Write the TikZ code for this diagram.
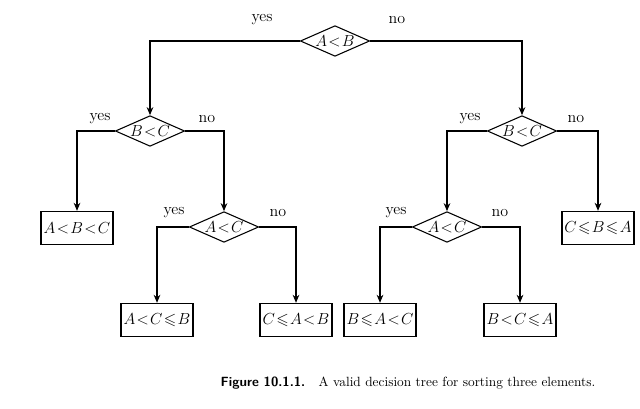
\documentclass[tikz,border=0pt]{standalone}
\usepackage{amsmath,amssymb}
\usetikzlibrary{shapes.geometric,arrows.meta}
\tikzset{
  test/.style={draw,thick,diamond,aspect=2.2,inner sep=0pt,minimum width=52pt,minimum height=23pt,font=\large},
  leaf/.style={draw,thick,rectangle,minimum width=54pt,minimum height=25pt,inner sep=1pt,font=\large},
  edge/.style={thick,-{Stealth[length=6pt,width=5pt]}},
  lab/.style={font=\large}
}
\begin{document}
\thickmuskip=1.5mu\relax
\begin{tikzpicture}[x=0.75pt,y=-0.75pt]
\useasboundingbox (0,0) rectangle (640,409);
% decisions
\node[test] (ab) at (335,41) {$A<B$};
\node[test] (bc1) at (150,131) {$B<C$};
\node[test] (bc2) at (522,131) {$B<C$};
\node[test] (ac1) at (224,227) {$A<C$};
\node[test] (ac2) at (447,227) {$A<C$};
% outcomes
\node[leaf] (abc) at (77,228) {$A<B<C$};
\node[leaf] (acb) at (157,320) {$A<C\leqslant B$};
\node[leaf] (cab) at (296,320) {$C\leqslant A<B$};
\node[leaf] (bac) at (380,320) {$B\leqslant A<C$};
\node[leaf] (bca) at (520,320) {$B<C\leqslant A$};
\node[leaf] (cba) at (598,228) {$C\leqslant B\leqslant A$};
% connectors
\draw[edge] (ab.west) -| (bc1.north);
\draw[edge] (ab.east) -| (bc2.north);
\draw[edge] (bc1.west) -| (abc.north);
\draw[edge] (bc1.east) -| (ac1.north);
\draw[edge] (ac1.west) -| (acb.north);
\draw[edge] (ac1.east) -| (cab.north);
\draw[edge] (bc2.west) -| (ac2.north);
\draw[edge] (bc2.east) -| (cba.north);
\draw[edge] (ac2.west) -| (bac.north);
\draw[edge] (ac2.east) -| (bca.north);
% labels
\node[lab] (y1) at (262,20) {yes};
\node[lab] (n1) at (397,20) {no};
\node[lab] (y2) at (100,119) {yes};
\node[lab] (n2) at (207,119) {no};
\node[lab] (y3) at (470,119) {yes};
\node[lab] (n3) at (576,119) {no};
\node[lab] (y4) at (174,213) {yes};
\node[lab] (n4) at (278,213) {no};
\node[lab] (y5) at (396,213) {yes};
\node[lab] (n5) at (500,213) {no};
% caption
\node (cap) at (408,383) {\textsf{\textbf{Figure 10.1.1.}}\quad A valid decision tree for sorting three elements.};
\end{tikzpicture}
\end{document}
